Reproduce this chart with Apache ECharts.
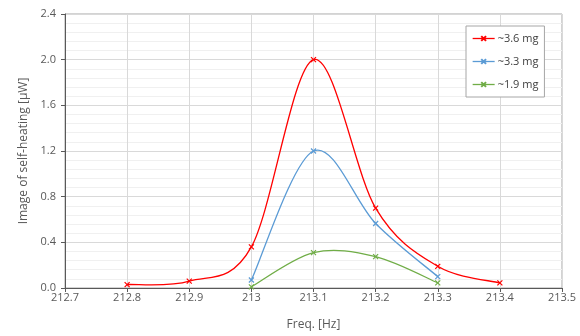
<!DOCTYPE html>
<html><head><meta charset="utf-8">
<script src="https://cdn.jsdelivr.net/npm/echarts@6/dist/echarts.min.js"></script>
<style>html,body{margin:0;padding:0;background:#fff}#c{width:580px;height:336px}</style>
</head><body><div id="c"></div>
<script>
var freqRed = [212.8, 212.9, 213.0, 213.1, 213.2, 213.3, 213.4];
var valRed = [0.03, 0.06, 0.36, 2.00, 0.70, 0.19, 0.045];
var freqBlue = [213.0, 213.1, 213.2, 213.3];
var valBlue = [0.07, 1.20, 0.565, 0.10];
var freqGreen = [213.0, 213.1, 213.2, 213.3];
var valGreen = [0.01, 0.31, 0.275, 0.045];
var names = ['~3.6 mg', '~3.3 mg', '~1.9 mg'];
var colors = ['#FF0000', '#5B9BD5', '#70AD47'];

function pairs(xs, ys) { return xs.map(function (x, i) { return [x, ys[i]]; }); }
var xSym = 'path://M0,0L10,10M10,0L0,10';
var font = 'Open Sans';
var LW = 1.3;

// smooth (Catmull-Rom style, like spreadsheet "smoothed line") curve through the data, via the axes' coordinate system
function curveSeries(i, data) {
  return {
    type: 'custom', name: names[i] + ' curve', silent: true, z: 2, clip: true,
    data: data,
    renderItem: function (params, api) {
      if (params.dataIndex !== 0) return null;
      var p = data.map(function (d) { return api.coord(d); });
      var n = p.length;
      var d = 'M' + p[0][0] + ',' + p[0][1];
      for (var k = 0; k < n - 1; k++) {
        var p0 = p[k > 0 ? k - 1 : k], p1 = p[k], p2 = p[k + 1], p3 = p[k + 2 < n ? k + 2 : k + 1];
        var c1x = p1[0] + (p2[0] - p0[0]) / 6, c1y = p1[1] + (p2[1] - p0[1]) / 6;
        var c2x = p2[0] - (p3[0] - p1[0]) / 6, c2y = p2[1] - (p3[1] - p1[1]) / 6;
        d += 'C' + c1x + ',' + c1y + ',' + c2x + ',' + c2y + ',' + p2[0] + ',' + p2[1];
      }
      return { type: 'path', shape: { pathData: d }, style: { stroke: colors[i], fill: 'none', lineWidth: LW } };
    }
  };
}
function markerSeries(i, data) {
  return {
    name: names[i], type: 'line', data: data, z: 3,
    symbol: xSym, symbolSize: 5,
    lineStyle: { color: colors[i], width: LW, opacity: 0 },
    itemStyle: { color: colors[i], borderColor: colors[i], borderWidth: 1.2 }
  };
}
var chart = echarts.init(document.getElementById('c'));
chart.setOption({
  animation: false,
  grid: { left: 65, right: 18, top: 14, bottom: 44, show: true, borderColor: '#a6a6a6', borderWidth: 1 },
  legend: {
    orient: 'vertical', left: 466, top: 26,
    padding: [7, 6, 7, 6], itemGap: 12, itemWidth: 22, itemHeight: 6,
    backgroundColor: '#fff', borderColor: '#a6a6a6', borderWidth: 1,
    lineStyle: { opacity: 1, width: LW },
    textStyle: { fontFamily: font, fontSize: 11, color: '#404040', padding: [0, 0, 0, -2] },
    data: names
  },
  xAxis: {
    type: 'value', min: 212.7, max: 213.5, interval: 0.1,
    name: 'Freq. [Hz]', nameLocation: 'middle', nameGap: 31,
    nameTextStyle: { fontFamily: font, fontSize: 12, color: '#595959' },
    axisLine: { lineStyle: { color: '#595959', width: 1 } },
    axisTick: { show: true, length: 4, lineStyle: { color: '#595959' } },
    axisLabel: { margin: 4, fontFamily: font, fontSize: 11, color: '#595959',
      formatter: function (v) { return String(parseFloat(v.toFixed(1))); } },
    splitLine: { show: true, lineStyle: { color: '#d9d9d9', width: 1 } }
  },
  yAxis: {
    type: 'value', min: 0, max: 2.4, interval: 0.4,
    name: 'Image of self-heating [μW]', nameLocation: 'middle', nameGap: 35,
    nameTextStyle: { fontFamily: font, fontSize: 12, color: '#595959' },
    axisLine: { show: true, lineStyle: { color: '#595959', width: 1 } },
    axisTick: { show: true, length: 4, lineStyle: { color: '#595959' } },
    axisLabel: { margin: 9, fontFamily: font, fontSize: 11, color: '#595959',
      formatter: function (v) { return v.toFixed(1); } },
    splitLine: { show: true, lineStyle: { color: '#d9d9d9', width: 1 } },
    minorTick: { show: false, splitNumber: 5 },
    minorSplitLine: { show: true, lineStyle: { color: '#f0f0f0', width: 1 } }
  },
  series: [
    curveSeries(0, pairs(freqRed, valRed)),
    curveSeries(1, pairs(freqBlue, valBlue)),
    curveSeries(2, pairs(freqGreen, valGreen)),
    markerSeries(0, pairs(freqRed, valRed)),
    markerSeries(1, pairs(freqBlue, valBlue)),
    markerSeries(2, pairs(freqGreen, valGreen))
  ]
});
</script></body></html>
